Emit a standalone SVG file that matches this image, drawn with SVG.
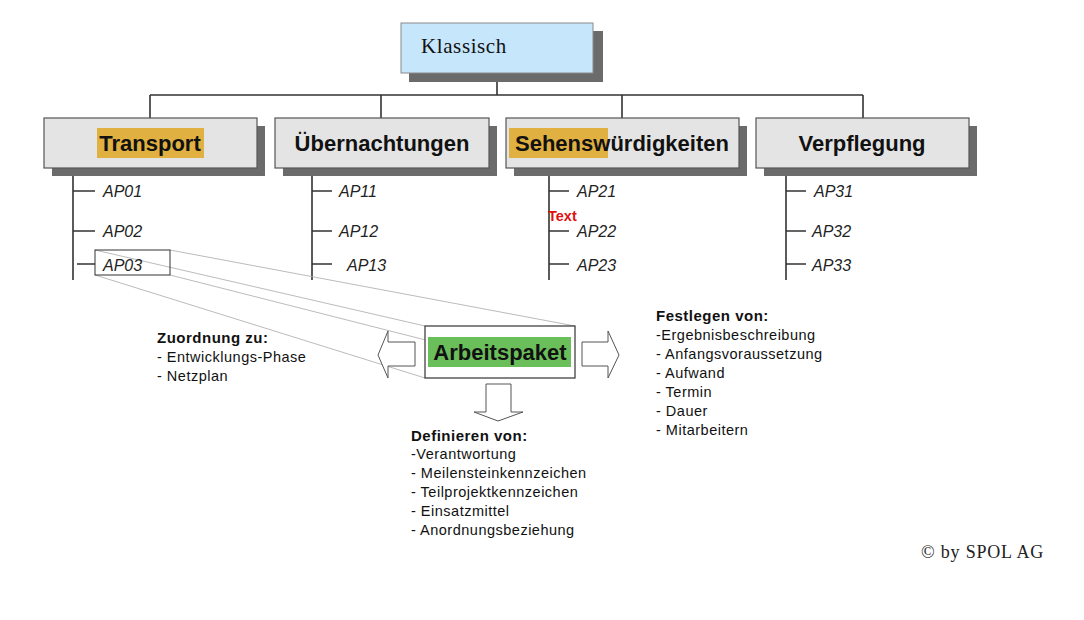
<svg xmlns="http://www.w3.org/2000/svg" width="1084" height="620" viewBox="0 0 1084 620">
<style>
.shadow{fill:#6b6b6b}
.top{fill:#c6e6fb;stroke:#8a8a8a;stroke-width:1}
.cat{fill:#e4e4e4;stroke:#555;stroke-width:1.2}
.cattxt{font-family:"Liberation Sans",Arial,sans-serif;font-weight:bold;font-size:22px;fill:#111;text-anchor:middle}
.hl{fill:#e0b040}
.ap{font-family:"Liberation Sans",Arial,sans-serif;font-style:italic;font-size:16px;fill:#222}
.tree{stroke:#333;stroke-width:1.6;fill:none}
.proj{stroke:#aaa;stroke-width:0.8;fill:none}
.arrow{fill:#fff;stroke:#555;stroke-width:1}
.t{font-family:"Liberation Sans",Arial,sans-serif;font-size:14.5px;letter-spacing:0.5px;fill:#111}
.tb{font-family:"Liberation Sans",Arial,sans-serif;font-size:15px;letter-spacing:0.5px;font-weight:bold;fill:#111}
</style>
<rect width="1084" height="620" fill="#fff"/>

<g id="connectors">
<path class="tree" d="M497 73V95M150 95H863M150 95V118M381 95V118M622 95V118M863 95V118"/>
<path class="tree" d="M73 176V280M73 191H95M73 231H95M77 264H95"/>
<path class="tree" d="M312 176V280M312 191H332M312 231H332M312 264H332"/>
<path class="tree" d="M549 176V280M549 191H569M549 231H569M549 264H569"/>
<path class="tree" d="M786 176V280M786 191H806M786 231H806M786 264H806"/>
<path class="proj" d="M170 250L575 326M95 250L425 326M170 275L575 378M95 275L425 378"/>
</g>

<g id="klassisch">
<rect class="shadow" x="409" y="31" width="194" height="51"/>
<rect class="top" x="401" y="23" width="192" height="50"/>
<text x="421" y="53" font-family="Liberation Serif,Times New Roman,serif" font-size="21" letter-spacing="0.6" fill="#111">Klassisch</text>
</g>

<g id="transport">
<rect class="shadow" x="52" y="126" width="213" height="50"/>
<rect class="cat" x="44" y="118" width="213" height="50"/>
<rect class="hl" x="97" y="128" width="107" height="30"/>
<text class="cattxt" x="150" y="151">Transport</text>
</g>

<g id="uebernachtungen">
<rect class="shadow" x="283" y="126" width="214" height="50"/>
<rect class="cat" x="275" y="118" width="214" height="50"/>
<text class="cattxt" x="382" y="151">Übernachtungen</text>
</g>

<g id="sehenswuerdigkeiten">
<rect class="shadow" x="514" y="126" width="233" height="50"/>
<rect class="cat" x="506" y="118" width="233" height="50"/>
<rect class="hl" x="509" y="128" width="99" height="30"/>
<text class="cattxt" x="622" y="151">Sehenswürdigkeiten</text>
</g>

<g id="verpflegung">
<rect class="shadow" x="764" y="126" width="213" height="50"/>
<rect class="cat" x="756" y="118" width="213" height="50"/>
<text class="cattxt" x="862" y="151">Verpflegung</text>
</g>

<g id="ap-transport">
<text class="ap" x="103" y="197">AP01</text>
<text class="ap" x="103" y="237">AP02</text>
<rect x="95" y="250" width="75" height="25" fill="none" stroke="#333" stroke-width="1"/>
<text class="ap" x="103" y="271">AP03</text>
</g>
<g id="ap-uebernachtungen">
<text class="ap" x="339" y="197">AP11</text>
<text class="ap" x="339" y="237">AP12</text>
<text class="ap" x="347" y="271">AP13</text>
</g>
<g id="ap-sehens">
<text class="ap" x="577" y="197">AP21</text>
<text x="548" y="221" font-family="Liberation Sans,Arial,sans-serif" font-weight="bold" font-size="14.5" fill="#e01010">Text</text>
<text class="ap" x="577" y="237">AP22</text>
<text class="ap" x="577" y="271">AP23</text>
</g>
<g id="ap-verpflegung">
<text class="ap" x="814" y="197">AP31</text>
<text class="ap" x="812" y="237">AP32</text>
<text class="ap" x="812" y="271">AP33</text>
</g>

<g id="arbeitspaket">
<rect x="425" y="326" width="150" height="52" fill="#fff" stroke="#333" stroke-width="1.2"/>
<rect x="428" y="337" width="143" height="30" fill="#6abf5a"/>
<text class="cattxt" x="500" y="360">Arbeitspaket</text>
</g>

<g id="arrows">
<polygon class="arrow" points="415,342 388,342 388,331 378,355 388,378 388,366 415,366"/>
<polygon class="arrow" points="582,342 608,342 608,331 619,355 608,378 608,366 582,366"/>
<polygon class="arrow" points="486,384 511,384 511,412 523,412 498,421 474,412 486,412"/>
</g>

<g id="zuordnung">
<text class="tb" x="157" y="343">Zuordnung zu:</text>
<text class="t" x="157" y="362">- Entwicklungs-Phase</text>
<text class="t" x="157" y="381">- Netzplan</text>
</g>

<g id="festlegen">
<text class="tb" x="656" y="321">Festlegen von:</text>
<text class="t" x="656" y="340">-Ergebnisbeschreibung</text>
<text class="t" x="656" y="359">- Anfangsvoraussetzung</text>
<text class="t" x="656" y="378">- Aufwand</text>
<text class="t" x="656" y="397">- Termin</text>
<text class="t" x="656" y="416">- Dauer</text>
<text class="t" x="656" y="435">- Mitarbeitern</text>
</g>

<g id="definieren">
<text class="tb" x="411" y="441">Definieren von:</text>
<text class="t" x="411" y="459">-Verantwortung</text>
<text class="t" x="411" y="478">- Meilensteinkennzeichen</text>
<text class="t" x="411" y="497">- Teilprojektkennzeichen</text>
<text class="t" x="411" y="516">- Einsatzmittel</text>
<text class="t" x="411" y="535">- Anordnungsbeziehung</text>
</g>

<text x="921" y="558" font-family="Liberation Serif,Times New Roman,serif" font-size="18" letter-spacing="0.8" fill="#222">© by SPOL AG</text>
</svg>
